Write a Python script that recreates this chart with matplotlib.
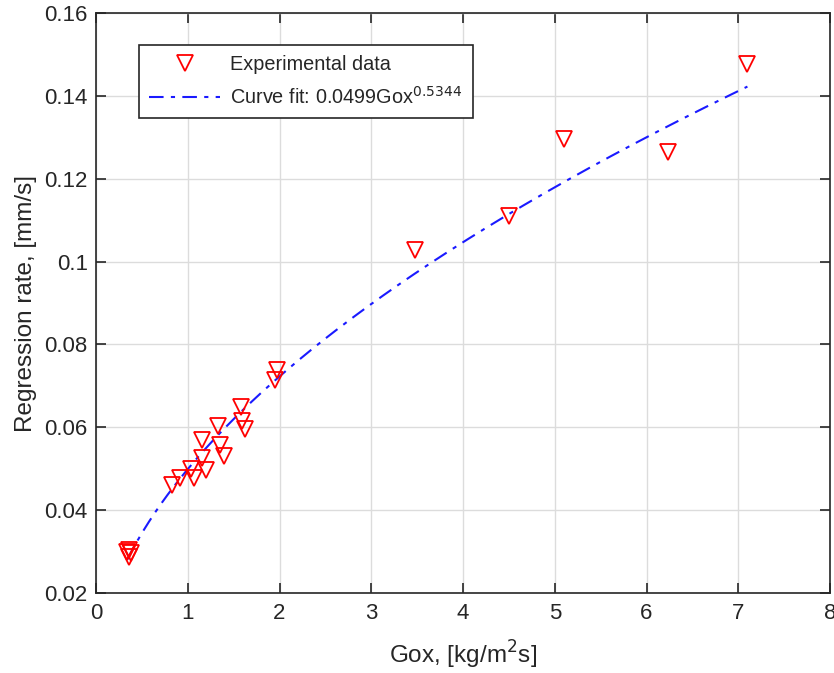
import numpy as np
import matplotlib
matplotlib.use("Agg")
import matplotlib.pyplot as plt

plt.rcParams['font.family'] = ['Liberation Sans', 'DejaVu Sans']

gox = [0.34, 0.36, 0.38, 0.36, 0.83, 0.92, 1.04, 1.07, 1.15, 1.16, 1.20,
       1.33, 1.35, 1.39, 1.58, 1.59, 1.62, 1.95, 1.97, 3.48, 4.50, 5.10,
       6.23, 7.10]
rate = [0.0300, 0.0304, 0.0296, 0.0288, 0.0461, 0.0477, 0.0500, 0.0477,
        0.0570, 0.0526, 0.0497, 0.0604, 0.0558, 0.0530, 0.0650, 0.0614,
        0.0596, 0.0715, 0.0739, 0.1028, 0.1110, 0.1296, 0.1265, 0.1477]

fit_a = 0.0499
fit_b = 0.5344

xticks = [0, 1, 2, 3, 4, 5, 6, 7, 8]
yticks = [0.02, 0.04, 0.06, 0.08, 0.1, 0.12, 0.14, 0.16]
yticklabels = ['0.02', '0.04', '0.06', '0.08', '0.1', '0.12', '0.14', '0.16']

txt = '#262626'
fig = plt.figure(figsize=(8.34, 6.73), dpi=100)
ax = fig.add_axes([96/834, 1-593/673, (830-96)/834, (593-13)/673])

xf = np.linspace(min(gox), max(gox), 200)
yf = fit_a * xf ** fit_b

ax.plot(gox, rate, linestyle='none', marker='v', markersize=12,
        markerfacecolor='none', markeredgecolor='#ff0000', markeredgewidth=1.3,
        label='Experimental data', zorder=3)
ax.plot(xf, yf, color='#1a1aff', linestyle='-.', linewidth=1.5,
        dashes=(7, 3.5, 2, 3.5),
        label='Curve fit: 0.0499Gox$^{0.5344}$', zorder=2)

ax.set_xlim(0, 8)
ax.set_ylim(0.02, 0.16)
ax.set_xticks(xticks)
ax.set_yticks(yticks)
ax.set_yticklabels(yticklabels)
ax.grid(True, color='#dcdcdc', linewidth=1.0)
ax.set_axisbelow(True)
ax.tick_params(direction='in', length=7, width=1.2, top=True, right=True,
               labelsize=16, colors=txt, labelcolor=txt, pad=7)
ax.tick_params(axis='y', pad=6)
for s in ax.spines.values():
    s.set_color('#262626')
    s.set_linewidth(1.2)

ax.set_xlabel('Gox, [kg/m$^2$s]', fontsize=17.5, color=txt, labelpad=11)
ax.set_ylabel('Regression rate, [mm/s]', fontsize=17.5, color=txt, labelpad=5)

leg = ax.legend(loc='upper left', bbox_to_anchor=((139-96)/734, 1-(45-13)/580),
                borderaxespad=0,
                fontsize=14.3, frameon=True, fancybox=False, edgecolor='#262626',
                framealpha=1, handlelength=3.6, borderpad=0.5, labelspacing=0.6,
                handletextpad=0.5)
leg.get_frame().set_linewidth(1.2)
for t in leg.get_texts():
    t.set_color(txt)

fig.savefig('out.png', dpi=100)
